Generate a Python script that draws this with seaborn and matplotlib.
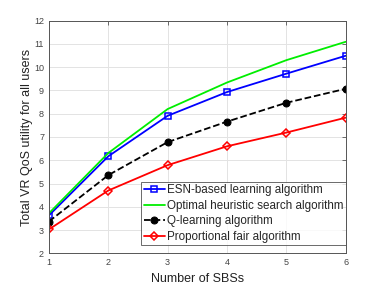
import pandas as pd
import seaborn as sns
import matplotlib.pyplot as plt

sbs = [1, 2, 3, 4, 5, 6]
esn = [3.63, 6.17, 7.91, 8.93, 9.72, 10.49]
optimal = [3.72, 6.31, 8.2, 9.34, 10.3, 11.09]
qlearn = [3.37, 5.36, 6.78, 7.66, 8.47, 9.07]
propfair = [3.03, 4.7, 5.79, 6.6, 7.19, 7.83]

labels = ['ESN-based learning algorithm', 'Optimal heuristic search algorithm',
          'Q-learning algorithm', 'Proportional fair algorithm']

sns.set_style('white')
plt.rcParams['font.family'] = ['Liberation Sans', 'DejaVu Sans']

fig = plt.figure(figsize=(3.82, 2.86), dpi=100)
ax = fig.add_axes([0.128, 0.114, 0.777, 0.814])

styles = [
    dict(color='#0000ff', marker='s', linestyle='-', mfc='none', mec='#0000ff', ms=4, mew=1.1),
    dict(color='#00ee00', marker=None, linestyle='-'),
    dict(color='black', marker='o', linestyle='--', mfc='black', mec='black', ms=5, dashes=(4, 3)),
    dict(color='#ff0000', marker='D', linestyle='-', mfc='none', mec='#ff0000', ms=3.6, mew=1.1),
]

for vals, lab, st in zip([esn, optimal, qlearn, propfair], labels, styles):
    df = pd.DataFrame({'x': sbs, 'y': vals})
    sns.lineplot(data=df, x='x', y='y', ax=ax, label=lab, lw=1.3, **st)

ax.set_xlim(1, 6)
ax.set_ylim(2, 12)
ax.set_xticks(sbs)
ax.set_yticks(range(2, 13))
ax.grid(True, color='#e3e3e3', lw=0.7)
ax.tick_params(direction='in', top=True, right=True, length=3, width=0.6,
               labelsize=6.5, labelcolor='#444444', color='#555555')
for s in ax.spines.values():
    s.set_color('#555555')
    s.set_linewidth(0.7)

ax.set_xlabel('Number of SBSs', fontsize=9, color='#222222', labelpad=4)
ax.set_ylabel('Total VR QoS utility for all users', fontsize=9, color='#222222', labelpad=1)

leg = ax.legend(loc='lower right', fontsize=8.4, frameon=True, fancybox=False,
                borderpad=0.2, labelspacing=0.3, handlelength=1.8, handletextpad=0.2,
                borderaxespad=0.0, bbox_to_anchor=(1.0, 0.035))
leg.get_frame().set_edgecolor('#444444')
leg.get_frame().set_linewidth(0.7)

fig.savefig('out.png', dpi=100)
